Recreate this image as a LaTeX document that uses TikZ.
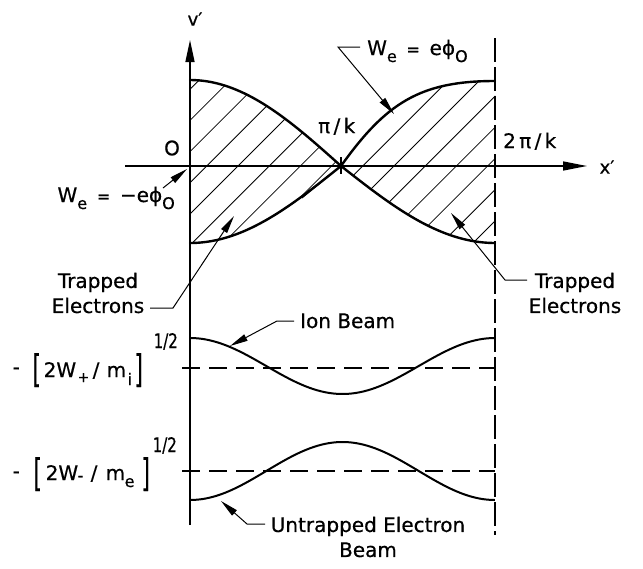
\documentclass[tikz,border=0pt]{standalone}
\usepackage{graphicx}
\usepackage{fontspec}
\setmainfont{DejaVu Sans}[FakeBold=0.6]
\usetikzlibrary{arrows.meta}
\newcommand{\lo}[2][7pt]{\raisebox{-#1}{#2}}
\newcommand{\at}[3]{\rlap{\hspace*{#1}\raisebox{#2}{#3}}}
\newcommand{\brkt}[1]{\scalebox{0.55}[1]{\fontsize{38}{38}\selectfont #1}}
\newcommand{\sfs}{\fontsize{16}{16}\selectfont}
\newcommand{\half}{\scalebox{0.75}[1]{\fontsize{20}{20}\selectfont 1/2}}
\begin{document}
\begin{tikzpicture}[x=1pt,y=-1pt,
  lbl/.style={font=\fontsize{20}{25}\selectfont, inner sep=0pt},
  sep/.style={line width=2.4pt, line cap=round, line join=round},
  beam/.style={line width=2pt},
  axis/.style={line width=1.4pt},
  dsh/.style={line width=1.3pt, dash pattern=on 18pt off 9pt},
  vdsh/.style={line width=1.3pt, dash pattern=on 24pt off 5pt},
  hatch/.style={line width=0.8pt},
  leader/.style={line width=1pt, -{Triangle[length=18pt,width=7pt]}},
  ]
\useasboundingbox (0,0) rectangle (643,568);

% hatching of trapped regions
\begin{scope}
\clip plot[domain=0:1,samples=40] ({190+151*\x},{166-86*cos(90*\x)})
  -- plot[domain=1:0,samples=40] ({190+151*\x},{166+77*cos(90*\x)}) -- cycle;
\foreach \k in {-6,...,12} \draw[hatch] ({404+31.2*\k-300},300) -- ({404+31.2*\k},0);
\end{scope}
\begin{scope}
\clip (341,166) .. controls (386,103) and (420,81) .. (495,81) -- (495,243)
  -- plot[domain=1:0,samples=40] ({341+154*\x},{166+77*sin(90*\x)}) -- cycle;
\foreach \k in {-6,...,12} \draw[hatch] ({404+31.2*\k-300},300) -- ({404+31.2*\k},0);
\end{scope}

% axes
\coordinate (vtop) at (190,40);
\coordinate (vbot) at (190,525);
\coordinate (xl0) at (125,166);
\coordinate (xr0) at (587,166);
\coordinate (rtop) at (495,38);
\coordinate (rbot) at (495,535);
\draw[axis, -{Triangle[length=22pt,width=9pt]}] (vbot) -- (vtop);
\draw[axis, -{Triangle[length=24pt,width=9pt]}] (xl0) -- (xr0);
\draw[vdsh] (rtop) -- (rbot);

% separatrices
\draw[sep] plot[domain=0:1,samples=40] ({190+151*\x},{166-86*cos(90*\x)});
\draw[sep] plot[domain=0:1,samples=40] ({190+151*\x},{166+77*cos(90*\x)});
\draw[sep] plot[domain=0:1,samples=40] ({341+154*\x},{166+77*sin(90*\x)});
\draw[sep] (341,166) .. controls (386,103) and (420,81) .. (495,81);
\draw[line width=1.6pt] (341,157) -- (341,174);
\draw[line width=1pt] (341,166) -- (302,198);

% beams
\draw[dsh] (182,368) -- (495,368);
\draw[dsh] (182,471) -- (495,471);
\draw[beam] plot[domain=0:1,samples=80] ({190+305*\x},{366-28*cos(360*\x)});
\draw[beam] plot[domain=0:1,samples=80] ({190+305*\x},{471+29*cos(360*\x)});

% labels
\node[lbl, font=\fontsize{18}{22}\selectfont] (vl) at (195,19) {v′};
\node[lbl, font=\fontsize{18}{22}\selectfont] (xl) at (607,167) {x′};
\node[lbl] (zero) at (172,148) {O};
\node[lbl, anchor=base west] (pik) at (318,133) {π\,/\,k};
\node[lbl, anchor=base west] (tpik) at (503,148) {2\,π\,/\,k};
\node[lbl, anchor=base west] (weq) at (367,55) {W\lo{\sfs e}\, {\sfs =}\, eϕ\lo{\sfs O}};
\node[lbl, anchor=base east] (wneg) at (175,202) {W\lo{\sfs e}\, {\sfs =}\, −eϕ\lo{\sfs O}};
\node[lbl, align=center] (trl) at (98,293) {Trapped\\Electrons};
\node[lbl, align=center] (trr) at (575,293) {Trapped\\Electrons};
\node[lbl, anchor=base west] (ion) at (300,328) {Ion Beam};
\node[lbl, align=center] (untr) at (368,537) {Untrapped Electron\\Beam};
\node[lbl, anchor=base west] (ionv) at (0,377) {\at{12pt}{3pt}{-}\at{32pt}{-5pt}{\brkt{[}}\at{43pt}{0pt}{2W}\at{77pt}{-5pt}{\fontsize{14}{14}\selectfont +}\at{92pt}{0pt}{/}\at{106pt}{0pt}{m}\at{127pt}{-8pt}{\sfs i}\at{134pt}{-5pt}{\brkt{]}}\at{153pt}{29pt}{\half}};
\node[lbl, anchor=base west] (elv) at (0,480) {\at{12pt}{2pt}{-}\at{33pt}{-6pt}{\brkt{[}}\at{45pt}{0pt}{2W}\at{77pt}{-1pt}{\sfs -}\at{90pt}{0pt}{/}\at{105pt}{0pt}{m}\at{124pt}{-7pt}{\sfs e}\at{141pt}{-6pt}{\brkt{]}}\at{152pt}{28pt}{\half}};

% leaders
\coordinate (weqs) at (360,47);
\coordinate (weqc) at (338,47);
\coordinate (weqt) at (394,114);
\draw[leader] (weqs) -- (weqc) -- (weqt);
\coordinate (wnegs) at (163,188);
\coordinate (wnegt) at (187,169);
\draw[leader] (wnegs) -- (wnegt);
\coordinate (trls) at (150,308);
\coordinate (trlc) at (173,308);
\coordinate (trlt) at (234,216);
\draw[leader] (trls) -- (trlc) -- (trlt);
\coordinate (trrs) at (527,280);
\coordinate (trrc) at (505,280);
\coordinate (trrt) at (451,213);
\draw[leader] (trrs) -- (trrc) -- (trrt);
\coordinate (ions) at (294,321);
\coordinate (ionc) at (277,321);
\coordinate (iont) at (230,346);
\draw[leader] (ions) -- (ionc) -- (iont);
\coordinate (unts) at (265,524);
\coordinate (untc) at (247,524);
\coordinate (untt) at (221,501);
\draw[leader] (unts) -- (untc) -- (untt);
\end{tikzpicture}
\end{document}
